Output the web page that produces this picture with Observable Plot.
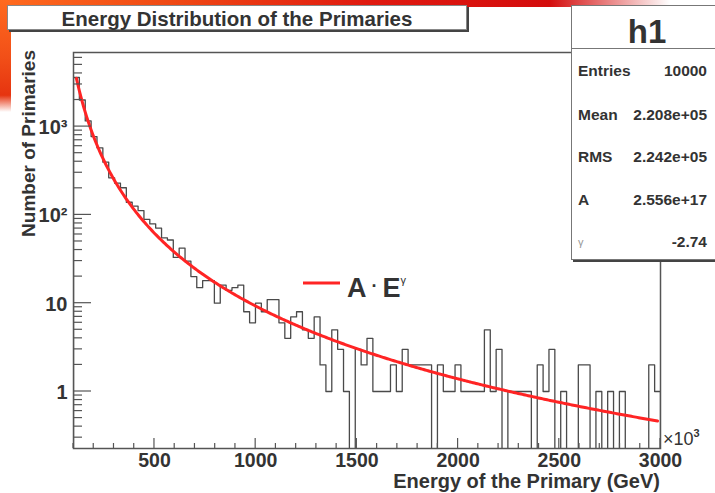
<!DOCTYPE html>
<html>
<head>
<meta charset="utf-8">
<script src="https://cdn.jsdelivr.net/npm/d3@7"></script>
<script src="https://cdn.jsdelivr.net/npm/@observablehq/plot@0.6"></script>
<style>
  body { margin: 0; background: #fff; font-family: "Liberation Sans", Arial, sans-serif; }
  #wrap { position: relative; width: 715px; height: 493px; overflow: hidden; background: #fff; }
  #wrap svg { position: absolute; left: 0; top: 0; }
  .bgtop { position: absolute; left: 0; top: 0; width: 670px; height: 7px;
    background: linear-gradient(to right, #ff6a1e 0%, #f04a14 25%, #e01a10 55%, #d40c0c 82%, rgba(255,255,255,0) 100%); }
  .bgleft { position: absolute; left: 0; top: 0; width: 11px; height: 112px;
    background: linear-gradient(to bottom, #ff6a1e 0%, #f25018 50%, #e63410 85%, rgba(255,255,255,0) 100%); }
  .titlebox { position: absolute; left: 7px; top: 5px; width: 458px; height: 23px;
    background: #fff; border: 1px solid #888; box-shadow: 2px 2px 0 #444;
    font: bold 20.5px "Liberation Sans", Arial, sans-serif; color: #333;
    text-align: center; line-height: 26px; }
  .stats { position: absolute; left: 571px; top: 5px; width: 170px; height: 253px;
    background: #fff; border: 1px solid #777; box-shadow: 2px 2px 0 #444; color: #333; }
  .stats .hd { position: absolute; left: 0; top: 0; width: 150px; height: 42px; text-align: center;
    font: bold 33px "Liberation Sans", Arial, sans-serif; line-height: 52px; }
  .stats .div { position: absolute; left: 0; top: 42px; width: 170px; height: 0; border-top: 1px solid #777; }
  .stats .row { position: absolute; left: 6px; width: 130px; font: bold 15.5px "Liberation Sans", Arial, sans-serif; }
  .stats .row .k { position: absolute; left: 0; top: 0; }
  .stats .row .v { position: absolute; right: 1px; top: 0; }
  .stats .row .k.small { font-size: 11px; font-weight: normal; color: #999; top: 3px; }
</style>
</head>
<body>
<div id="wrap">
  <div class="bgtop"></div>
  <div class="bgleft"></div>
</div>
<script>
// ---- data (x in units of 10^3 GeV) ----
const binLow = 100;
const binWidth = 29;
const counts = [
  3600, 2000, 1160, 770, 575, 395, 263, 229, 203, 139,
  126, 112, 89, 79, 71, 55, 52, 33, 42, 30,
  20, 15, 18, 18, 10, 16, 14, 15, 16, 8,
  6, 10, 8, 11, 11, 6, 4, 7, 8, 5,
  4, 7, 2, 1, 5, 3, 1, 0, 3, 2,
  4, 1, 1, 1, 2, 1, 3, 2, 2, 2,
  2, 0, 2, 1, 1, 2, 1, 1, 1, 1,
  5, 1, 3, 0, 1, 1, 1, 1, 0, 2,
  1, 3, 0, 1, 0, 0, 2, 2, 0, 1,
  0, 1, 0, 1, 0, 0, 0, 0, 2, 1
];
const fitA = 2.556e17;
const fitGamma = -2.74;
const xTickValues = [500, 1000, 1500, 2000, 2500, 3000];
const xTickLabels = ["500", "1000", "1500", "2000", "2500", "3000"];
const yTickValues = [1, 10, 100, 1000];
const yTickLabels = ["1", "10", "10²", "10³"];
const statNames = ["Entries", "Mean", "RMS", "A", "γ"];
const statValues = ["10000", "2.208e+05", "2.242e+05", "2.556e+17", "-2.74"];
const titleText = "Energy Distribution of the Primaries";
const histName = "h1";
const xTitle = "Energy of the Primary (GeV)";
const yTitle = "Number of Primaries";

(function () {
const xMax = binLow + counts.length * binWidth;
const FLOOR = 0.01; // empty bins drop below the frame (clipped)
const steps = [{x: binLow, y: FLOOR}];
counts.forEach((c, i) => steps.push({x: binLow + i * binWidth, y: c > 0 ? c : FLOOR}));
steps.push({x: xMax, y: counts[counts.length - 1] > 0 ? counts[counts.length - 1] : FLOOR});
steps.push({x: xMax, y: FLOOR});

const fitPts = [];
const f0 = binLow + binWidth / 2, f1 = xMax - binWidth / 2;
for (let k = 0; k <= 400; k++) {
  const x = f0 + (f1 - f0) * k / 400;
  fitPts.push({x, y: fitA * Math.pow(x * 1000, fitGamma)});
}

const FONT = "'Liberation Sans', Arial, sans-serif";
const TXT = "#333";

const plot = Plot.plot({
  width: 715, height: 493,
  marginLeft: 73, marginRight: 55, marginTop: 52, marginBottom: 45,
  x: {type: "linear", domain: [binLow, xMax], axis: null},
  y: {type: "log", domain: [0.2262, 6905], axis: null},
  style: {fontFamily: FONT, background: "transparent", overflow: "visible"},
  marks: [
    Plot.line(steps, {x: "x", y: "y", curve: "step-after", stroke: "#4a4a4a", strokeWidth: 1.3, clip: true}),
    Plot.line(fitPts, {x: "x", y: "y", stroke: "#ff2424", strokeWidth: 3, clip: true}),
    Plot.frame({stroke: "#555", strokeWidth: 1.5}),
    Plot.text(yTickValues, {y: d => d, text: (d, i) => yTickLabels[i], frameAnchor: "left",
      textAnchor: "end", dx: -6, dy: 1, fontSize: 20, fontWeight: "bold", fill: TXT}),
    Plot.text(xTickValues, {x: d => d, text: (d, i) => xTickLabels[i], frameAnchor: "bottom",
      lineAnchor: "top", dy: 5, fontSize: 19.5, fontWeight: "bold", fill: TXT})
  ]
});

document.getElementById("wrap").appendChild(plot);

const sx = plot.scale("x"), sy = plot.scale("y");
const svg = d3.select(plot);
const pxLeft = sx.apply(binLow), pxRight = sx.apply(xMax);
const pxBottom = sy.apply(sy.domain[0]), pxTop = sy.apply(sy.domain[1]);
const tg = svg.append("g").attr("stroke", "#555").attr("stroke-width", 1.2);
[0.1, 1, 10, 100, 1000].forEach(dec => {
  for (let m = 1; m <= 9; m++) {
    const v = m * dec;
    if (v < sy.domain[0] || v > sy.domain[1]) continue;
    const yy = sy.apply(v);
    tg.append("line").attr("x1", pxLeft).attr("x2", pxLeft + (m === 1 ? 18 : 9))
      .attr("y1", yy).attr("y2", yy);
  }
});
for (let v = 100; v <= 3000; v += 100) {
  const xx = sx.apply(v);
  const len = v % 500 === 0 ? 10 : 5;
  tg.append("line").attr("x1", xx).attr("x2", xx).attr("y1", pxBottom).attr("y2", pxBottom - len);
}

const tx = svg.append("g").attr("font-family", FONT).attr("font-weight", "bold").attr("fill", TXT);
tx.append("text").attr("x", pxRight).attr("y", 488).attr("text-anchor", "end")
  .attr("font-size", 20).text(xTitle);
tx.append("text").attr("transform", `translate(35,${pxTop - 2}) rotate(-90)`).attr("text-anchor", "end")
  .attr("font-size", 19).text(yTitle);
const mul = tx.append("text").attr("x", pxRight + 3).attr("y", pxBottom - 3)
  .attr("text-anchor", "start").attr("font-size", 18);
mul.append("tspan").attr("font-weight", "normal").text("×10");
mul.append("tspan").attr("font-size", 11).attr("dy", -8).text("3");

const lg = svg.append("g");
lg.append("line").attr("x1", 303).attr("x2", 340).attr("y1", 283).attr("y2", 283)
  .attr("stroke", "#ff2424").attr("stroke-width", 3);
const lt = lg.append("text").attr("x", 347).attr("y", 297).attr("text-anchor", "start")
  .attr("font-family", FONT).attr("font-weight", "bold").attr("fill", TXT).attr("font-size", 27);
lt.append("tspan").text("A");
lt.append("tspan").attr("font-size", 18).attr("dy", -5).text(" · ");
lt.append("tspan").attr("dy", 5).text("E");
lt.append("tspan").attr("font-size", 11).attr("font-weight", "normal").attr("dy", -13).text("γ");

const wrap = d3.select("#wrap");
wrap.append("div").attr("class", "titlebox").text(titleText);
const st = wrap.append("div").attr("class", "stats");
st.append("div").attr("class", "hd").text(histName);
st.append("div").attr("class", "div");
const rowTops = [56, 100, 142, 185, 227];
statNames.forEach((n, i) => {
  const r = st.append("div").attr("class", "row").style("top", rowTops[i] + "px");
  r.append("span").attr("class", "k" + (n === "γ" ? " small" : "")).text(n);
  r.append("span").attr("class", "v").text(statValues[i]);
});
})();
</script>
</body>
</html>
